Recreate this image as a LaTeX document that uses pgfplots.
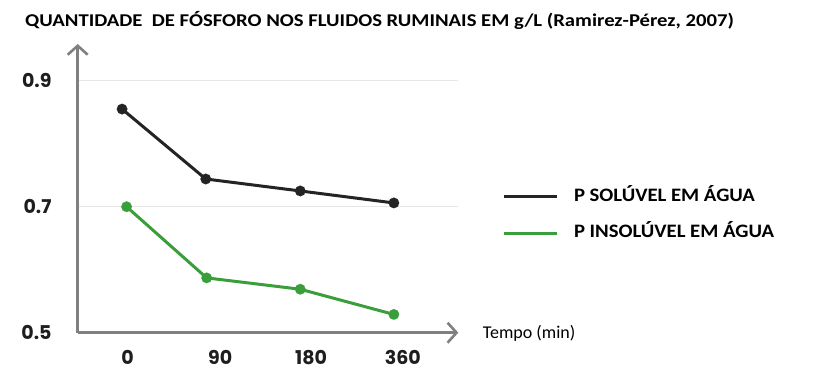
\documentclass[border=0pt]{standalone}
\usepackage{fontspec}
\setmainfont{Carlito}
\newfontfamily\tickfont{Poppins}
\usepackage{pgfplots}
\pgfplotsset{compat=1.18}
\usetikzlibrary{arrows.meta}
\definecolor{axgray}{RGB}{128,128,128}
\definecolor{gridgray}{RGB}{230,230,230}
\definecolor{darkline}{RGB}{34,36,38}
\definecolor{greenline}{RGB}{58,158,58}
\definecolor{labelc}{RGB}{30,30,30}
\newcommand{\legstretch}[1]{\hspace*{16pt}\scalebox{1.09}[1]{#1}}
\begin{document}
\begin{tikzpicture}
\useasboundingbox (-77.7pt,-53.3pt) rectangle (735.3pt,332.7pt);
\begin{axis}[
  at={(0,0)}, anchor=south west,
  width=380.6pt, height=288.7pt, scale only axis,
  xmin=-0.513, xmax=3.716, ymin=0.5, ymax=0.9583,
  axis lines=left,
  axis line style={axgray, line width=2.6pt, -{Straight Barb[length=9pt, width=20pt]}},
  ytick={0.5,0.7,0.9}, yticklabels={0.5,0.7,0.9},
  xtick={0.04,1.07,2.08,3.1}, xticklabels={0,90,180,360},
  major tick length=0pt, tick style={draw=none},
  ymajorgrids, grid style={gridgray, line width=1pt},
  yticklabel style={font=\tickfont\bfseries\fontsize{19}{19}\selectfont, text=labelc, anchor=east, inner sep=0pt, xshift=-26pt},
  xticklabel style={font=\tickfont\bfseries\fontsize{19}{19}\selectfont, text=labelc, anchor=base, inner sep=0pt, yshift=-32.2pt},
  clip=false,
  legend cell align=left,
  legend image code/.code={\draw[#1, mark=none, line width=3pt] (0pt,0pt) -- (53pt,0pt);},
  legend style={at={(1.1148,0.5009)}, anchor=north west, draw=none, fill=none, inner sep=0pt, outer sep=0pt,
    font=\bfseries\fontsize{19}{19}\selectfont, row sep=19.7pt,
    nodes={inner sep=0pt, text height=13pt, text depth=4pt}},
]
\addplot[darkline, line width=3pt, mark=*, mark size=5.3pt, mark options={line width=0.1pt}]
  coordinates {(-0.02,0.855) (0.91,0.744) (1.96,0.725) (3.0,0.706)};
\addlegendentry{\legstretch{P SOLÚVEL EM ÁGUA}}
\addplot[greenline, line width=3pt, mark=*, mark size=5.3pt, mark options={line width=0.1pt}]
  coordinates {(0.03,0.700) (0.92,0.587) (1.96,0.569) (3.0,0.529)};
\addlegendentry{\legstretch{P INSOLÚVEL EM ÁGUA}}
\end{axis}
\node[anchor=base west, inner sep=0pt, font=\bfseries\fontsize{18}{18}\selectfont] at (-52.7pt,306pt)
  {\scalebox{1.15}[1]{QUANTIDADE \ DE FÓSFORO NOS FLUIDOS RUMINAIS EM g/L (Ramirez-Pérez, 2007)}};
\node[anchor=west, inner sep=0pt, font=\fontsize{18}{18}\selectfont] at (405pt,-0.3pt) {Tempo (min)};
\end{tikzpicture}
\end{document}
